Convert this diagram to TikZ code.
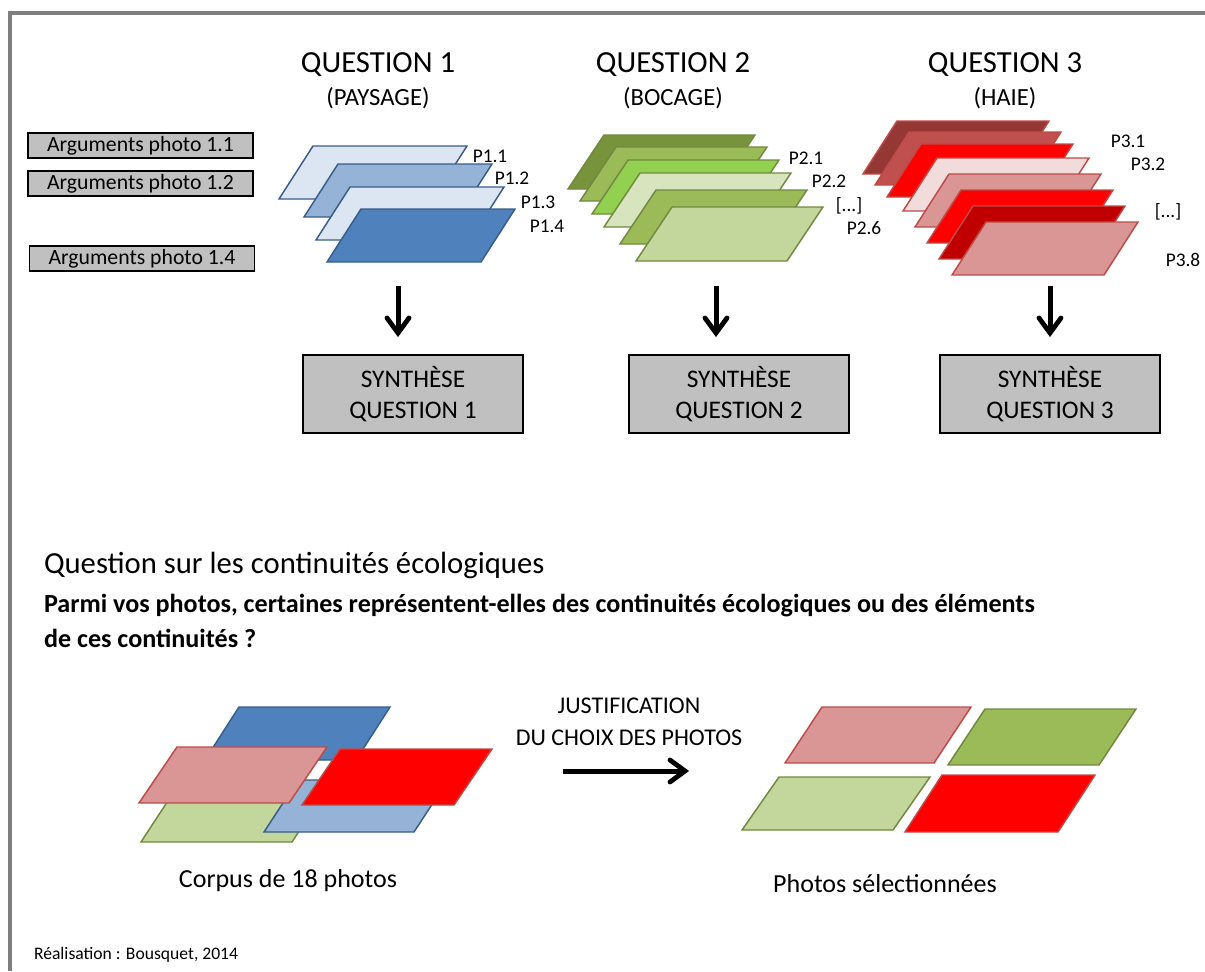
\documentclass[tikz,border=0pt]{standalone}
\usepackage{fontspec}
\setmainfont{Carlito}
\usetikzlibrary{calc}
\definecolor{framegray}{HTML}{7F7F7F}
\definecolor{boxgray}{HTML}{C0C0C0}
\definecolor{bluedk}{HTML}{4F81BD}
\definecolor{bluemd}{HTML}{95B3D7}
\definecolor{bluelt}{HTML}{DCE6F2}
\definecolor{blueln}{HTML}{385D8A}
\definecolor{grdk}{HTML}{77933C}
\definecolor{grmd}{HTML}{9BBB59}
\definecolor{grbr}{HTML}{92D050}
\definecolor{grlt}{HTML}{D7E4BD}
\definecolor{grpl}{HTML}{C3D69B}
\definecolor{grln}{HTML}{71893F}
\definecolor{rddk}{HTML}{953735}
\definecolor{rdmd}{HTML}{C0504D}
\definecolor{rdbr}{HTML}{FF0000}
\definecolor{rddp}{HTML}{C00000}
\definecolor{rdlt}{HTML}{F2DCDB}
\definecolor{rdpk}{HTML}{D99694}
\definecolor{rdln}{HTML}{BE4B48}
% parallelogram: fill, draw, TLx, TLy, width, height, slant
\newcommand{\pgram}[7]{\filldraw[fill=#1,draw=#2,line width=1.1pt,line join=miter] (#3,#4) -- ++(#5,0) -- ++(-#7,#6) -- ++(-#5,0) -- cycle;}
\begin{document}
\begin{tikzpicture}[x=0.75pt,y=-0.75pt,
  txt/.style={inner sep=0pt, outer sep=0pt},
  ttl/.style={txt, font=\fontsize{23}{27}\selectfont},
  sub/.style={txt, font=\fontsize{18.5}{22}\selectfont},
  plab/.style={txt, font=\fontsize{14.5}{17}\selectfont},
  argbox/.style={draw=black, fill=boxgray, line width=1.1pt, inner sep=0pt,
    minimum width=168.75pt, minimum height=18.75pt, font=\fontsize{16.3}{19}\selectfont},
  synbox/.style={draw=black, fill=boxgray, line width=1.1pt, inner sep=0pt, align=center,
    minimum width=165pt, minimum height=58.5pt, font=\fontsize{19}{23.25}\selectfont},
  shaft/.style={line width=3.75pt},
  barb/.style={line width=3.6pt, line cap=round, line join=miter, miter limit=10},
  capt/.style={txt, font=\fontsize{19.5}{23}\selectfont}]
\useasboundingbox (0,0) rectangle (1205,971);
% frame
\draw[framegray, line width=3pt] (1205,12.5) -- (9.5,12.5) -- (9.5,971);
% titles
\node[ttl] (t1) at (378,65) {QUESTION 1};
\node[sub] (s1) at (378,98) {(PAYSAGE)};
\node[ttl] (t2) at (673,65) {QUESTION 2};
\node[sub] (s2) at (673,98) {(BOCAGE)};
\node[ttl] (t3) at (1005,65) {QUESTION 3};
\node[sub] (s3) at (1005,98) {(HAIE)};
% argument boxes
\node[argbox] (arg1) at (140.5,145.5) {Arguments photo 1.1};
\node[argbox] (arg2) at (140.5,183.5) {Arguments photo 1.2};
\node[argbox] (arg4) at (142,258.5) {Arguments photo 1.4};
% stack 1
\pgram{bluelt}{blueln}{313}{146}{154}{53}{34}
\pgram{bluemd}{blueln}{338}{164}{154}{53}{34}
\pgram{bluelt}{blueln}{350}{187}{154}{53}{34}
\pgram{bluedk}{blueln}{361}{209}{154}{53}{34}
\node[plab] (p11) at (490,156) {P1.1};
\node[plab] (p12) at (512,178) {P1.2};
\node[plab] (p13) at (538,202) {P1.3};
\node[plab] (p14) at (547,226) {P1.4};
% stack 2
\pgram{grdk}{grln}{604}{135}{151}{54}{36}
\pgram{grmd}{grln}{616}{147}{151}{54}{36}
\pgram{grbr}{grln}{628}{160}{151}{54}{36}
\pgram{grlt}{grln}{640}{173}{151}{54}{36}
\pgram{grmd}{grln}{656}{190}{151}{54}{36}
\pgram{grpl}{grln}{672}{207}{151}{54}{36}
\node[plab] (p21) at (806,158) {P2.1};
\node[plab] (p22) at (829,181) {P2.2};
\node[plab] (p2x) at (849,206) {[...]};
\node[plab] (p26) at (864,228) {P2.6};
% stack 3
\pgram{rddk}{rdln}{897}{121}{152}{53}{34}
\pgram{rdmd}{rdln}{909}{132}{152}{53}{34}
\pgram{rdbr}{rdln}{921}{144}{152}{53}{34}
\pgram{rdlt}{rdln}{937}{158}{152}{53}{34}
\pgram{rdpk}{rdln}{949}{174}{152}{53}{34}
\pgram{rdbr}{rdln}{961}{190}{152}{53}{34}
\pgram{rddp}{rdln}{973}{206}{152}{53}{34}
\pgram{rdpk}{rdln}{986}{222}{152}{53}{34}
\node[plab] (p31) at (1128,141) {P3.1};
\node[plab] (p32) at (1148,164) {P3.2};
\node[plab] (p3x) at (1168,212) {[...]};
\node[plab] (p38) at (1183,260) {P3.8};
% synthesis boxes
\node[synbox] (syn1) at (413,394) {SYNTHÈSE\\QUESTION 1};
\node[synbox] (syn2) at (739,394) {SYNTHÈSE\\QUESTION 2};
\node[synbox] (syn3) at (1050,394) {SYNTHÈSE\\QUESTION 3};
% down arrows (start and tip coordinates)
\coordinate (a1) at (398,286); \coordinate (a1t) at (398,333);
\coordinate (a2) at (716,286); \coordinate (a2t) at (716,333);
\coordinate (a3) at (1050,286); \coordinate (a3t) at (1050,333);
\foreach \a in {a1,a2,a3}{
  \draw[shaft] (\a) -- ($(\a t)+(0,-3)$);
  \draw[barb] ($(\a t)+(-11,-15)$) -- (\a t) -- ($(\a t)+(11,-15)$);
}
% question text
\node[txt, anchor=west, font=\fontsize{23}{27}\selectfont] (qtitle) at (44,565) {Question sur les continuités écologiques};
\node[txt, anchor=west, font=\fontsize{19.6}{24}\selectfont\bfseries] (qline1) at (44,606) {Parmi vos photos, certaines représentent-elles des continuités écologiques ou des éléments};
\node[txt, anchor=west, font=\fontsize{19.6}{24}\selectfont\bfseries] (qline2) at (44,638) {de ces continuités ?};
% corpus
\pgram{bluedk}{blueln}{239}{707}{151}{53}{34}
\pgram{grpl}{grln}{175}{790}{151}{52}{34}
\pgram{bluemd}{blueln}{298}{780}{150}{52}{34}
\pgram{rdpk}{rdln}{177}{747}{150}{56}{38}
\pgram{rdbr}{rdln}{340}{749}{152}{56}{38}
\node[capt] (corpus) at (288,881) {Corpus de 18 photos};
% justification arrow
\node[txt, font=\fontsize{18}{24}\selectfont, align=center] (just) at (629,722) {JUSTIFICATION\\DU CHOIX DES PHOTOS};
\coordinate (ha) at (563,771);
\coordinate (hb) at (685,771);
\draw[shaft] (ha) -- ($(hb)+(-3,0)$);
\draw[barb] ($(hb)+(-15,-11)$) -- (hb) -- ($(hb)+(-15,11)$);
% selected
\pgram{rdpk}{rdln}{822}{707}{149}{56}{37}
\pgram{grmd}{grln}{985}{709}{151}{56}{37}
\pgram{grpl}{grln}{779}{777}{151}{53}{37}
\pgram{rdbr}{rdln}{942}{775}{153}{57}{37}
\node[capt] (selected) at (885,884) {Photos sélectionnées};
% credit
\node[txt, anchor=west, font=\fontsize{13.2}{16}\selectfont] (credit) at (34,955) {Réalisation : Bousquet, 2014};
\end{tikzpicture}
\end{document}
